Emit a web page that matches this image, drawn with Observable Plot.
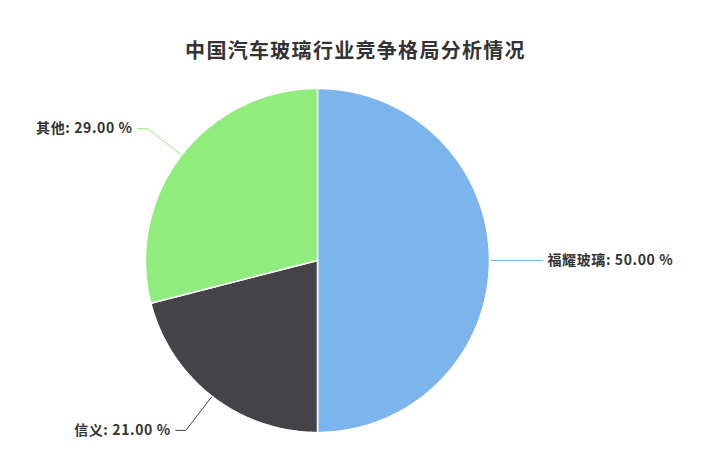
<!DOCTYPE html>
<html><head><meta charset="utf-8">
<script src="https://cdn.jsdelivr.net/npm/d3@7"></script>
<script src="https://cdn.jsdelivr.net/npm/@observablehq/plot@0.6"></script>
<style>
body{margin:0;background:#fff;font-family:"Noto Sans CJK SC","Noto Sans",sans-serif;}
#title{box-sizing:border-box;height:70px;padding-top:37px;line-height:26px;font-size:20px;font-weight:bold;color:#333;text-align:center;padding-right:16px;letter-spacing:1.3px;}
#chart svg{display:block;}
</style></head><body>
<div id="title">中国汽车玻璃行业竞争格局分析情况</div>
<div id="chart"></div>
<script>
const categories = ["福耀玻璃", "信义", "其他"];
const shares = [50, 21, 29];
const colors = ["#7cb5ec", "#434348", "#90ed7d"];

const data = categories.map((name, i) => ({name, value: shares[i]}));
const arcs = d3.pie().sort(null).value(d => d.value)(data);

// slice polygons in unit-circle coordinates
const poly = [];
for (const a of arcs) {
  poly.push({name: a.data.name, x: 0, y: 0});
  const n = Math.max(2, Math.ceil((a.endAngle - a.startAngle) / 0.01));
  for (let k = 0; k <= n; k++) {
    const t = a.startAngle + (a.endAngle - a.startAngle) * k / n;
    poly.push({name: a.data.name, x: Math.sin(t), y: Math.cos(t)});
  }
  poly.push({name: a.data.name, x: 0, y: 0});
}

// connectors and labels
const R = 172; // px per unit
const rBreak = 1.25, hLen = 10 / R, pad = 5 / R;
const conn = [], labels = [];
for (const a of arcs) {
  const m = (a.startAngle + a.endAngle) / 2;
  const sx = Math.sin(m), sy = Math.cos(m);
  const side = sx >= 0 ? 1 : -1;
  const bx = sx * rBreak, by = sy * rBreak;
  conn.push({name: a.data.name, x: sx, y: sy});
  conn.push({name: a.data.name, x: bx, y: by});
  conn.push({name: a.data.name, x: bx + side * hLen, y: by});
  labels.push({name: a.data.name, side, x: bx + side * (hLen + pad), y: by,
    text: `${a.data.name}: ${a.data.value.toFixed(2)} %`});
}

const cx = 317, cy = 190, W = 727, H = 390;
const chart = Plot.plot({
  width: W, height: H, margin: 0,
  x: {domain: [-cx / R, (W - cx) / R], axis: null},
  y: {domain: [-(H - cy) / R, cy / R], axis: null},
  color: {domain: categories, range: colors},
  marks: [
    Plot.line(conn, {x: "x", y: "y", z: "name", stroke: "name", strokeWidth: 1}),
    Plot.line(poly, {x: "x", y: "y", z: "name", fill: "name", stroke: "#ffffff", strokeWidth: 1.5, curve: "linear"}),
    Plot.text(labels.filter(d => d.side > 0), {x: "x", y: "y", text: "text", textAnchor: "start", fontSize: 14, fontWeight: "bold", fill: "#333"}),
    Plot.text(labels.filter(d => d.side < 0), {x: "x", y: "y", text: "text", textAnchor: "end", fontSize: 14, fontWeight: "bold", fill: "#333"})
  ]
});
chart.style.fontFamily = '"Noto Sans CJK SC","Noto Sans",sans-serif';
chart.querySelectorAll("text").forEach(t => t.style.letterSpacing = "0.6px");
document.getElementById("chart").appendChild(chart);
</script>
</body></html>
